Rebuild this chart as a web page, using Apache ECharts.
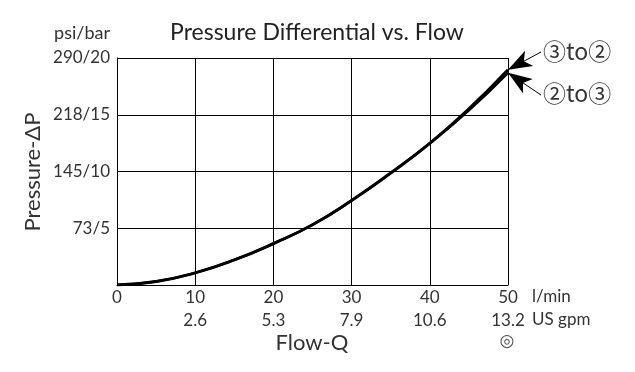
<!DOCTYPE html>
<html><head><meta charset="utf-8">
<script src="https://cdn.jsdelivr.net/npm/echarts@6/dist/echarts.min.js"></script>
<style>html,body{margin:0;padding:0;background:#fff}#c{width:635px;height:372px}</style>
</head><body><div id="c"></div>
<script>
var flow = [0, 5, 10, 15, 20, 25, 30, 35, 40, 45, 50];
var dp3to2 = [0, 4.5, 15.5, 32, 53, 77, 108, 143, 181, 225, 275];
var dp2to3 = [0, 4.5, 15.5, 32, 53, 77, 108, 143, 181, 223, 271];
var yTickLabels = ['', '73/5', '145/10', '218/15', '290/20'];
var xTickGpm = {10: '2.6', 20: '5.3', 30: '7.9', 40: '10.6', 50: '13.2'};
var FONT = 'Lato';
var chart = echarts.init(document.getElementById('c'));
function pairs(v){ return flow.map(function(f,i){ return [f, v[i]]; }); }
chart.setOption({
  animation: false,
  title: { text: 'Pressure Differential vs. Flow', left: 312, textAlign: 'center', top: 16,
    textStyle: { fontFamily: FONT, fontSize: 23, fontWeight: 'normal', color: '#222' } },
  grid: { left: 117, right: 127, top: 58, bottom: 87 },
  xAxis: { type: 'value', min: 0, max: 50, interval: 10,
    name: 'l/min\nUS gpm', nameLocation: 'end', nameGap: 24,
    nameTextStyle: { fontFamily: FONT, fontSize: 17, color: '#333', align: 'left', verticalAlign: 'top', lineHeight: 23, padding: [0,0,0,0] },
    axisLine: { lineStyle: { color: '#000', width: 1 } }, axisTick: { show: false },
    splitLine: { show: true, lineStyle: { color: '#000', width: 1 } },
    axisLabel: { fontFamily: FONT, fontSize: 17, color: '#333', lineHeight: 23, margin: 1,
      formatter: function(v){ return xTickGpm[v] ? v + '\n' + xTickGpm[v] : String(v); } } },
  yAxis: { type: 'value', min: 0, max: 290, interval: 72.5,
    name: 'psi/bar', nameLocation: 'end', nameGap: 16,
    nameTextStyle: { fontFamily: FONT, fontSize: 18, color: '#333', align: 'right', padding: [0, 7, 0, 0] },
    axisLine: { lineStyle: { color: '#000', width: 1 } }, axisTick: { show: false },
    splitLine: { show: true, lineStyle: { color: '#000', width: 1 } },
    axisLabel: { fontFamily: FONT, fontSize: 17, color: '#333', margin: 7,
      formatter: function(v){ return yTickLabels[Math.round(v / 72.5)]; } } },
  series: [
    { type: 'line', name: '3to2', data: pairs(dp3to2), smooth: true, showSymbol: false,
      lineStyle: { color: '#000', width: 3 },
      markLine: { silent: true, symbol: ['none', 'arrow'], symbolSize: [13, 24],
        lineStyle: { color: '#000', width: 1, type: 'solid' },
        label: { show: false },
        data: [[{ x: 541, y: 52 }, { coord: [50, dp3to2[10]] }]] } },
    { type: 'line', name: '2to3', data: pairs(dp2to3), smooth: true, showSymbol: false,
      lineStyle: { color: '#000', width: 2.5 },
      markLine: { silent: true, symbol: ['none', 'arrow'], symbolSize: [13, 24],
        lineStyle: { color: '#000', width: 1, type: 'solid' },
        label: { show: false },
        data: [[{ x: 541, y: 95 }, { coord: [50, dp2to3[10]] }]] } }
  ],
  graphic: [
    { type: 'text', left: 543, top: 40, style: { text: '③to②', font: '23px "Noto Sans CJK JP"', fill: '#333' } },
    { type: 'text', left: 543, top: 82, style: { text: '②to③', font: '23px "Noto Sans CJK JP"', fill: '#333' } },
    { type: 'text', x: 312, y: 343, style: { text: 'Flow-Q', font: '22px Lato', fill: '#333', align: 'center', verticalAlign: 'middle' } },
    { type: 'text', x: 507, y: 342, style: { text: '◎', font: '17px "DejaVu Sans"', fill: '#555', align: 'center', verticalAlign: 'middle' } },
    { type: 'text', x: 33, y: 172, rotation: Math.PI / 2, style: { text: 'Pressure-ΔP', font: '22px Lato', fill: '#333', align: 'center', verticalAlign: 'middle' } }
  ]
});
</script></body></html>
